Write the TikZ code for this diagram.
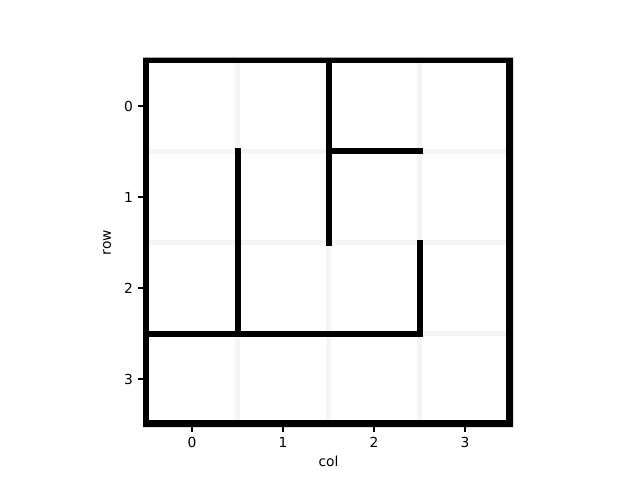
\documentclass[tikz,border=0pt]{standalone}
\usepackage{fontspec}
\setmainfont{DejaVu Sans}
\definecolor{cellgrid}{RGB}{245,245,245}
\begin{document}
\begin{tikzpicture}[x=65.52bp, y=-65.52bp,
        wall/.style={line width=4.32bp, line cap=rect},   % Labyrinthwand
        gridline/.style={line width=3.96bp, color=cellgrid},
        tick/.style={line width=0.8pt},
        font=\fontsize{10}{12}\selectfont]
        % Bildbereich
        \useasboundingbox (-2.1099,-1.1648) rectangle (4.9231,4.1099);
        % helle Rasterlinien
        \foreach \k in {0.5,1.5,2.5} {
          \draw[gridline] (\k,-0.5) -- (\k,3.5);
          \draw[gridline] (-0.5,\k) -- (3.5,\k);
        }
        % Rahmen
        \fill[black, even odd rule] (-0.536,-0.532) rectangle (3.530,3.530)
             (-0.473,-0.473) rectangle (3.451,3.451);
        % Waende zeichnen
        \draw[wall] (0.5,0.5) -- (0.5,2.5);
        \draw[wall] (1.5,-0.47) -- (1.5,1.5);
        \draw[wall] (1.5,0.5) -- (2.5,0.5);
        \draw[wall] (2.5,1.5) -- (2.5,2.5) -- (-0.47,2.5);
        % Achsen beschriften
        \foreach \x in {0,1,2,3} \draw[tick] (\x,3.530) -- (\x,3.584) node[below=3.5pt, inner sep=0pt] (xt\x) {\x};
        \foreach \y in {0,1,2,3} \draw[tick] (-0.536,\y) -- (-0.590,\y) node[left=3.5pt, inner sep=0pt] (yt\y) {\y};
        \node[inner sep=0pt] (collabel) at (1.5,3.901) {col};
        \node[inner sep=0pt, rotate=90] (rowlabel) at (-0.934,1.5) {row};
    \end{tikzpicture}
\end{document}
